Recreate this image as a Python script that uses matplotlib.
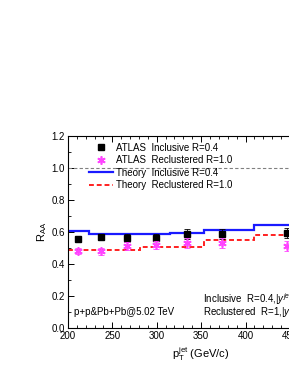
import matplotlib
matplotlib.use("Agg")
import matplotlib.pyplot as plt
from matplotlib.ticker import MultipleLocator

plt.rcParams['font.family'] = ['Liberation Sans', 'DejaVu Sans']
plt.rcParams['mathtext.fontset'] = 'custom'
plt.rcParams['mathtext.rm'] = 'Liberation Sans'
plt.rcParams['mathtext.it'] = 'Liberation Sans:italic'

# ATLAS data points
atlas_pt = [211, 237, 266, 299, 334, 374, 447]
atlas_incl = [0.558, 0.572, 0.564, 0.566, 0.589, 0.589, 0.594]
atlas_incl_err = [0.018, 0.020, 0.022, 0.022, 0.030, 0.032, 0.032]
atlas_recl = [0.483, 0.481, 0.516, 0.520, 0.533, 0.531, 0.516]
atlas_recl_err = [0.020, 0.020, 0.025, 0.025, 0.030, 0.030, 0.030]

# theory curves (step edges and values)
th_incl_edges = [200, 224, 315, 353, 410, 500]
th_incl = [0.607, 0.591, 0.596, 0.614, 0.648]
th_recl_edges = [200, 281, 353, 410, 500]
th_recl = [0.492, 0.507, 0.553, 0.582]

fig = plt.figure(figsize=(2.89, 3.74), dpi=100)
ax = fig.add_axes([0.235, 0.1217, 0.922, 0.5147])

ax.axhline(1.0, color='gray', lw=0.8, ls=(0, (3, 2)))

h_th1 = ax.stairs(th_incl, th_incl_edges, color='#1a1aff', lw=1.6, baseline=None,
                  label='Theory  Inclusive R=0.4')
h_th2 = ax.stairs(th_recl, th_recl_edges, color='#ff2020', lw=1.4, ls=(0, (2.5, 1.5)),
                  baseline=None, label='Theory  Reclustered R=1.0')

ax.errorbar(atlas_pt, atlas_incl, yerr=atlas_incl_err, fmt='none', ecolor='black',
            elinewidth=0.6, capsize=2, capthick=0.6)
h_a1, = ax.plot(atlas_pt, atlas_incl, ls='none', marker='s', ms=4.5, color='black',
                label='ATLAS  Inclusive R=0.4')
ax.errorbar(atlas_pt, atlas_recl, yerr=atlas_recl_err, fmt='none', ecolor='#ff44ff',
            elinewidth=0.6, capsize=2, capthick=0.6)
h_a2, = ax.plot(atlas_pt, atlas_recl, ls='none', marker=(6, 2, 0), ms=6, mew=1.2,
                color='#ff44ff', label='ATLAS  Reclustered R=1.0')

ax.set_xlim(200, 500)
ax.set_ylim(0, 1.2)
ax.xaxis.set_major_locator(MultipleLocator(50))
ax.xaxis.set_minor_locator(MultipleLocator(10))
ax.yaxis.set_major_locator(MultipleLocator(0.2))
ax.yaxis.set_minor_locator(MultipleLocator(0.1))
ax.yaxis.set_major_formatter(matplotlib.ticker.FormatStrFormatter('%.1f'))
ax.tick_params(which='both', direction='in', top=True, right=True, labelsize=7, pad=2)
ax.tick_params(which='major', length=4, width=0.7)
ax.tick_params(which='minor', length=2, width=0.6)
for s in ax.spines.values():
    s.set_linewidth(0.8)

ax.set_ylabel(r'$\mathrm{R_{AA}}$', fontsize=8, labelpad=2)
ax.set_xlabel(r'$\mathrm{p_T^{jet}}$ (GeV/c)', fontsize=8, labelpad=3)

ax.legend([h_a1, h_a2, h_th1, h_th2],
          [h.get_label() for h in [h_a1, h_a2, h_th1, h_th2]],
          loc='upper left', bbox_to_anchor=(0.055, 1.0), frameon=False,
          fontsize=7, handlelength=2.4, handletextpad=0.3, labelspacing=0.25,
          borderaxespad=0.3)

ax.text(207, 0.103, 'p+p&Pb+Pb@5.02 TeV', fontsize=7, va='center')
ax.text(352, 0.184, r'Inclusive  R=0.4,$|y^{jet}|$<2.8', fontsize=7, va='center')
ax.text(352, 0.103, r'Reclustered  R=1,$|y^{jet}|$<2.0', fontsize=7, va='center')

fig.savefig('out.png', dpi=100)
